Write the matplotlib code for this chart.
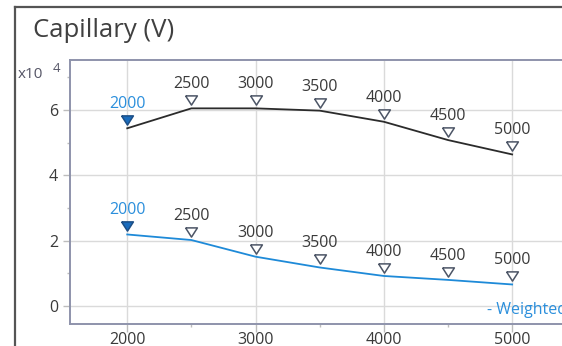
import matplotlib
matplotlib.use("Agg")
import matplotlib.pyplot as plt
from matplotlib.transforms import offset_copy
from matplotlib.lines import Line2D
from matplotlib.ticker import MultipleLocator

plt.rcParams['font.family'] = ['Open Sans', 'DejaVu Sans']

# Capillary voltage sweep
voltages = [2000, 2500, 3000, 3500, 4000, 4500, 5000]
upper_series = [54400, 60500, 60500, 59800, 56400, 50800, 46400]
weighted_series = [21900, 20200, 15100, 11800, 9200, 8000, 6600]
x_ticks = [2000, 3000, 4000, 5000]
y_ticks = [0, 2, 4, 6]
scale = 1e4

BLUE_LINE = "#1e8ad8"
BLUE_TEXT = "#2b8fdc"
BLUE_FILL = "#1a6cbd"
DARK_TEXT = "#3a3a3a"
MARKER_EDGE = "#4c5566"

fig = plt.figure(figsize=(5.62, 3.46), dpi=100)
W, H = 562, 346

# outer frame of the panel
fig.add_artist(Line2D([15 / W, 15 / W], [0, 1 - 7 / H], transform=fig.transFigure,
                      color="#555555", lw=1.6))
fig.add_artist(Line2D([15 / W, 1.02], [1 - 7 / H, 1 - 7 / H], transform=fig.transFigure,
                      color="#555555", lw=1.6))

ax = fig.add_axes([69.5 / W, 22 / H, 513.2 / W, 264 / H])
ax.set_xlim(1550, 5550)
ax.set_ylim(-0.55, 7.53)

for side in ("left", "top", "bottom"):
    ax.spines[side].set_color("#8e93ab")
    ax.spines[side].set_linewidth(1.4)
ax.spines["right"].set_visible(False)

ax.set_xticks(x_ticks)
ax.set_yticks(y_ticks)
ax.xaxis.set_minor_locator(MultipleLocator(500))
ax.yaxis.set_minor_locator(MultipleLocator(1))
ax.grid(True, which="major", color="#dadada", lw=1)
ax.set_axisbelow(True)
ax.tick_params(which="major", length=5.4, width=1, color="#bdbdbd",
               labelsize=11.5, labelcolor=DARK_TEXT)
ax.tick_params(axis="y", which="major", pad=2.9)
ax.tick_params(axis="x", which="major", pad=0.3)
ax.tick_params(which="minor", length=2.2, width=1, color="#bdbdbd")

marker_shape = [(-1, 0.78), (1, 0.78), (0, -0.78), (-1, 0.78)]
marker_tf = offset_copy(ax.transData, fig=fig, x=0, y=8, units="dots")


def draw_series(values, line_color):
    ys = [v / scale for v in values]
    ax.plot(voltages, ys, color=line_color, lw=1.3, zorder=3)
    ax.plot(voltages[1:], ys[1:], linestyle="none", marker=marker_shape, ms=8.5,
            mfc="white", mec=MARKER_EDGE, mew=1.1, transform=marker_tf, zorder=4)
    ax.plot(voltages[:1], ys[:1], linestyle="none", marker=marker_shape, ms=8.5,
            mfc=BLUE_FILL, mec="#1d4f86", mew=1.1, transform=marker_tf, zorder=4)
    for i, (x, y) in enumerate(zip(voltages, ys)):
        ax.annotate(str(x), (x, y), xytext=(0, 14.4), textcoords="offset points",
                    ha="center", va="baseline", fontsize=11.5,
                    color=BLUE_TEXT if i == 0 else DARK_TEXT, zorder=5)


draw_series(upper_series, "#2b2b2b")
draw_series(weighted_series, BLUE_LINE)

fig.text(33 / W, 1 - 37 / H, "Capillary (V)", fontsize=18.5, color="#404040",
         va="baseline", ha="left")
fig.text(18 / W, 1 - 78 / H, "x10", fontsize=11, color="#555566",
         va="baseline", ha="left")
fig.text(53 / W, 1 - 72 / H, "4", fontsize=9.5, color="#555566",
         va="baseline", ha="left")
fig.text(487 / W, 1 - 310 / H, "- Weighted", fontsize=11.5, color=BLUE_TEXT,
         va="center", ha="left")

fig.savefig("out.png", dpi=100)
